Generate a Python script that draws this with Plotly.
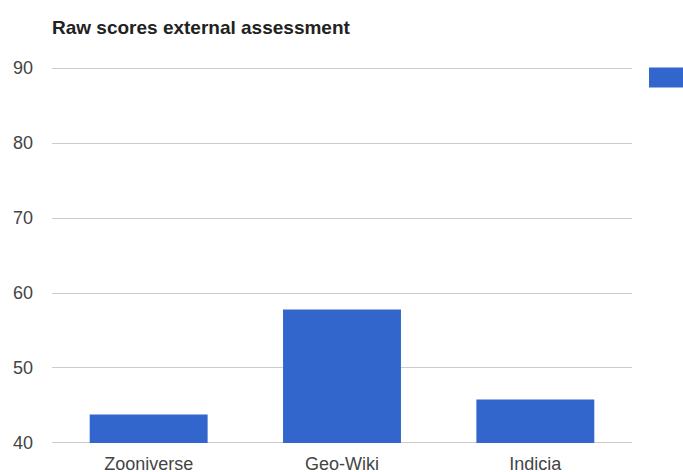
import plotly.graph_objects as go

# Raw scores from the external assessment
platforms = ["Zooniverse", "Geo-Wiki", "Indicia"]
scores = [43.8, 57.8, 45.8]
y_ticks = [40, 50, 60, 70, 80, 90]
AXIS_FLOOR = 40

BAR_COLOR = "#3366cc"
FONT = "Liberation Sans, Arial, sans-serif"

W, H = 683, 472
# 7.5 px per score unit; range padded by 0.27 units (2 px) each side so
# the 40 and 90 grid lines stay visible
ml, mr, mt, mb = 52, 51, 66, 27
Y_RANGE = [39.73, 90.27]

# Bars rise from the axis floor (40) up to each score
fig = go.Figure(
    go.Bar(
        x=platforms,
        y=[s - AXIS_FLOOR for s in scores],
        base=[AXIS_FLOOR] * len(scores),
        customdata=scores,
        marker=dict(color=BAR_COLOR, line=dict(width=0)),
        name="Score",
        hovertemplate="%{x}: %{customdata}<extra></extra>",
    )
)

plot_w = W - ml - mr
plot_h = H - mt - mb

# Legend swatch on the right edge (its label falls outside the canvas)
fig.add_shape(
    type="rect",
    xref="paper", yref="paper",
    x0=(649 - ml) / plot_w, x1=(700 - ml) / plot_w,
    y0=(H - mb - 87.5) / plot_h, y1=(H - mb - 67.5) / plot_h,
    fillcolor=BAR_COLOR, line=dict(width=0),
)

fig.update_layout(
    width=W, height=H,
    margin=dict(l=ml, r=mr, t=mt, b=mb, pad=0, autoexpand=False),
    paper_bgcolor="white",
    plot_bgcolor="white",
    showlegend=False,
    bargap=0.39,
    font=dict(family=FONT, size=18, color="#444444"),
    title=dict(
        text="<b>Raw scores external assessment</b>",
        x=ml / W, xanchor="left", xref="container",
        y=1 - 27 / H, yanchor="middle", yref="container",
        font=dict(family=FONT, size=19, color="#222222"),
    ),
    xaxis=dict(
        showgrid=False, showline=False, zeroline=False,
        ticks="", ticklabelstandoff=6,
        tickfont=dict(size=18, color="#444444"),
        automargin=False,
        fixedrange=True,
    ),
    yaxis=dict(
        range=Y_RANGE,
        tickvals=y_ticks,
        showgrid=True, gridcolor="#cccccc", gridwidth=1,
        showline=False, zeroline=False,
        ticks="", ticklabelstandoff=18,
        tickfont=dict(size=18, color="#444444"),
        automargin=False,
        fixedrange=True,
    ),
)

fig.write_html("out.html")
